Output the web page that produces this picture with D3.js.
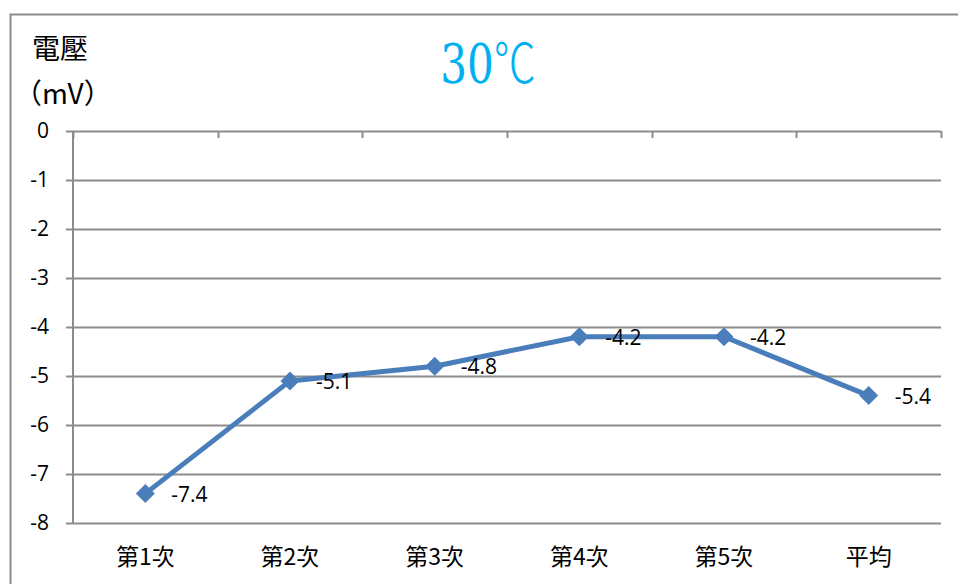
<!DOCTYPE html>
<html>
<head>
<meta charset="utf-8">
<script src="https://cdn.jsdelivr.net/npm/d3@7"></script>
<style>
  html, body { margin: 0; padding: 0; background: #fff; }
  svg { display: block; }
</style>
</head>
<body>
<svg id="chart" width="958" height="584"></svg>
<script>
// Measurement runs at 30 °C
const categories = ["第1次", "第2次", "第3次", "第4次", "第5次", "平均"];
const voltages = [-7.4, -5.1, -4.8, -4.2, -4.2, -5.4];
const yTicks = [0, -1, -2, -3, -4, -5, -6, -7, -8];
const titleNumber = "30";
const titleUnit = "℃";
const yLabelLines = ["電壓", "（mV）"];

const svg = d3.select("#chart");
const W = 958, H = 584;
const plot = { left: 73, right: 941, top: 131, bottom: 523 };
const numFont = "'Open Sans', 'Liberation Sans', sans-serif";
const cjkFont = "'Noto Sans CJK TC', 'Noto Sans CJK SC', sans-serif";
// plain hyphen-minus for negative numbers
const fmtInt = d => String(d);
const fmtOne = d => d.toFixed(1);

// outer chart frame (runs off the right and bottom edges)
svg.append("rect")
  .attr("x", 10.5).attr("y", 14.5)
  .attr("width", W).attr("height", H)
  .attr("fill", "#fff")
  .attr("stroke", "#8c8c8c").attr("stroke-width", 2);

const x = d3.scaleBand().domain(categories).range([plot.left, plot.right]).padding(0);
const y = d3.scaleLinear().domain([-8, 0]).range([plot.bottom, plot.top]);

// horizontal gridlines
svg.append("g")
  .selectAll("line")
  .data(yTicks)
  .join("line")
  .attr("x1", plot.left).attr("x2", plot.right)
  .attr("y1", d => Math.round(y(d)) + 0.5).attr("y2", d => Math.round(y(d)) + 0.5)
  .attr("stroke", "#8c8c8c").attr("stroke-width", 2);

// y axis
const yAxis = d3.axisLeft(y).tickValues(yTicks).tickFormat(fmtInt).tickSize(7).tickPadding(17);
const gy = svg.append("g").attr("transform", `translate(${plot.left},0)`).call(yAxis);
gy.select(".domain").attr("stroke", "#8c8c8c").attr("stroke-width", 2)
  .attr("d", `M0,${plot.top}V${plot.bottom}`);
gy.selectAll(".tick line").attr("stroke", "#8c8c8c").attr("stroke-width", 2);
gy.selectAll(".tick text")
  .attr("fill", "#000")
  .style("font-family", numFont)
  .style("font-size", "21px");

// category axis sits at the zero line, with labels below the plot
const boundaries = categories.map(c => x(c)).concat([plot.right]);
svg.append("g")
  .selectAll("line")
  .data(boundaries)
  .join("line")
  .attr("x1", d => Math.round(d) + 0.5).attr("x2", d => Math.round(d) + 0.5)
  .attr("y1", plot.top).attr("y2", plot.top + 7)
  .attr("stroke", "#8c8c8c").attr("stroke-width", 2);

svg.append("g")
  .selectAll("text")
  .data(categories)
  .join("text")
  .attr("x", d => x(d) + x.bandwidth() / 2)
  .attr("y", 565)
  .attr("text-anchor", "middle")
  .attr("fill", "#000")
  .style("font-family", cjkFont)
  .style("font-size", "23px")
  .text(d => d);

// data line
const pts = categories.map((c, i) => ({ c, v: voltages[i] }));
const line = d3.line().x(d => x(d.c) + x.bandwidth() / 2).y(d => y(d.v));
svg.append("path")
  .datum(pts)
  .attr("d", line)
  .attr("fill", "none")
  .attr("stroke", "#4A7EBB")
  .attr("stroke-width", 5)
  .attr("stroke-linejoin", "round");

// diamond markers
svg.append("g")
  .selectAll("path")
  .data(pts)
  .join("path")
  .attr("transform", d => `translate(${x(d.c) + x.bandwidth() / 2},${y(d.v)})`)
  .attr("d", "M0,-9.5L9.5,0L0,9.5L-9.5,0Z")
  .attr("fill", "#4A7EBB");

// value labels
svg.append("g")
  .selectAll("text")
  .data(pts)
  .join("text")
  .attr("x", d => x(d.c) + x.bandwidth() / 2 + 26)
  .attr("y", d => y(d.v) + 8)
  .attr("fill", "#000")
  .style("font-family", numFont)
  .style("font-size", "21px")
  .text(d => fmtOne(d.v));

// title: narrow serif digits followed by the degree sign
const title = svg.append("text")
  .attr("transform", "translate(488,83) scale(0.78,1)")
  .attr("text-anchor", "middle")
  .attr("fill", "#00B0F0")
  .style("font-size", "54px");
title.append("tspan")
  .style("font-family", "'DejaVu Serif', 'Liberation Serif', serif")
  .text(titleNumber);
title.append("tspan")
  .style("font-family", "'Noto Sans CJK TC', sans-serif")
  .style("font-weight", "300")
  .text(titleUnit);

// y axis title on two lines
svg.append("g")
  .selectAll("text")
  .data(yLabelLines)
  .join("text")
  .attr("x", (d, i) => i === 0 ? 32 : 14)
  .attr("y", (d, i) => 59 + i * 45)
  .attr("fill", "#000")
  .style("font-family", cjkFont)
  .style("font-size", "28px")
  .text(d => d);
</script>
</body>
</html>
